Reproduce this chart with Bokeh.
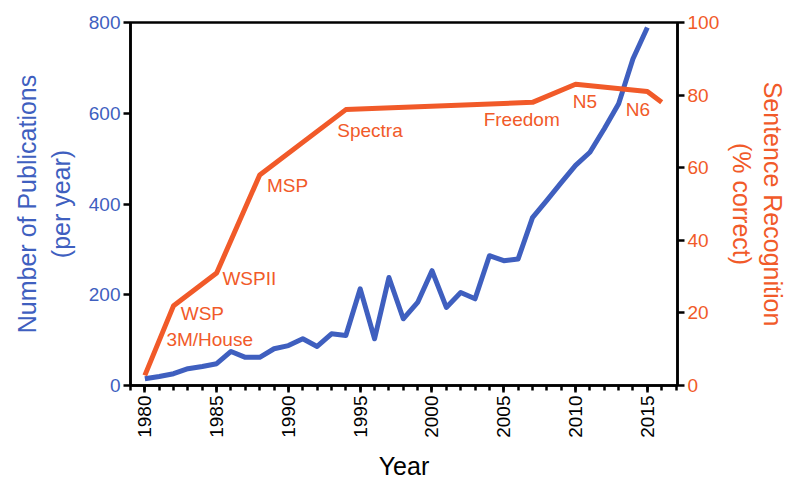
import math
from bokeh.plotting import figure
from bokeh.models import LinearAxis, Range1d, FixedTicker, ColumnDataSource
from bokeh.core.properties import value
from bokeh.embed import file_html
from bokeh.resources import INLINE

# ---- data ----
pub_years = list(range(1980, 2016))
publications = [15, 20, 26, 37, 42, 48, 75, 62, 62, 81, 88, 103, 86, 114, 110,
                213, 103, 238, 147, 183, 253, 172, 205, 191, 286, 275, 279,
                370, 408, 447, 485, 514, 566, 621, 720, 789]

device_years = [1980, 1982, 1985, 1988, 1994, 2007, 2010, 2015, 2016]
recognition = [2.8, 22, 31, 58, 76, 78, 83, 81, 78]

device_names = ["3M/House", "WSP", "WSPII", "MSP", "Spectra", "Freedom", "N5", "N6"]
label_x = [1981.5, 1982.5, 1985.4, 1988.5, 1993.4, 2003.6, 2009.8, 2013.5]
label_y = [12.7, 19.8, 29.5, 55.1, 70.2, 73.3, 78.2, 76.0]

x_ticks = [1980, 1985, 1990, 1995, 2000, 2005, 2010, 2015]
left_ticks = [0, 200, 400, 600, 800]
right_ticks = [0, 20, 40, 60, 80, 100]

BLUE = "#3F5FBF"
ORANGE = "#F15A29"
FONT = "Liberation Sans"

p = figure(width=798, height=483, output_backend="svg", toolbar_location=None,
           x_range=Range1d(1979, 2017.1), y_range=Range1d(0, 800),
           min_border_left=130, min_border_right=121, min_border_top=22,
           min_border_bottom=98)
p.extra_y_ranges = {"pct": Range1d(0, 100)}
p.grid.visible = False
p.outline_line_color = "black"
p.outline_line_width = 2.5
p.background_fill_color = "white"
p.border_fill_color = "white"

p.line(pub_years, publications, line_color=BLUE, line_width=5, line_join="round")
p.line(device_years, recognition, line_color=ORANGE, line_width=5,
       line_join="round", y_range_name="pct")

src = ColumnDataSource(dict(x=label_x, y=label_y, t=device_names))
p.text(x="x", y="y", text="t", source=src, y_range_name="pct",
       text_font=value(FONT), text_font_size="19px", text_color=ORANGE,
       text_align="left", text_baseline="middle")

# x axis
xa = p.xaxis[0]
xa.ticker = FixedTicker(ticks=x_ticks, minor_ticks=list(range(1979, 2018)))
xa.major_label_orientation = math.pi / 2
xa.axis_label = "Year"
xa.axis_label_text_font = FONT
xa.axis_label_text_font_size = "25px"
xa.axis_label_text_font_style = "normal"
xa.axis_label_text_color = "black"
xa.major_label_text_font = FONT
xa.major_label_text_font_size = "19px"
xa.major_label_text_color = "black"

# left axis
ya = p.yaxis[0]
ya.ticker = FixedTicker(ticks=left_ticks)
ya.axis_label = "Number of Publications\n(per year)"
ya.axis_label_text_color = BLUE
ya.major_label_text_color = BLUE
ya.minor_tick_line_color = None

ra = LinearAxis(y_range_name="pct", ticker=FixedTicker(ticks=right_ticks),
                axis_label="Sentence Recognition\n(% correct)")
ra.axis_label_text_color = ORANGE
ra.major_label_text_color = ORANGE
ra.minor_tick_line_color = None
p.add_layout(ra, "right")

for ax in [ya, ra]:
    ax.axis_label_text_font = FONT
    ax.axis_label_text_font_size = "25px"
    ax.axis_label_text_font_style = "normal"
    ax.major_label_text_font = FONT
    ax.major_label_text_font_size = "19px"

for ax in [xa, ya, ra]:
    ax.axis_line_color = "black"
    ax.axis_line_width = 2.5
    ax.major_tick_line_color = "black"
    ax.major_tick_line_width = 2.5
    ax.major_tick_out = 7
    ax.major_tick_in = 0
    ax.minor_tick_out = 5
    ax.minor_tick_in = 0
    ax.minor_tick_line_width = 2.5
    ax.major_label_standoff = 3
    ax.axis_label_standoff = 11

xa.minor_tick_line_color = "black"
ra.axis_label_standoff = 6
ra.axis_label_text_line_height = 1.1

open("out.html", "w").write(file_html(p, INLINE))
